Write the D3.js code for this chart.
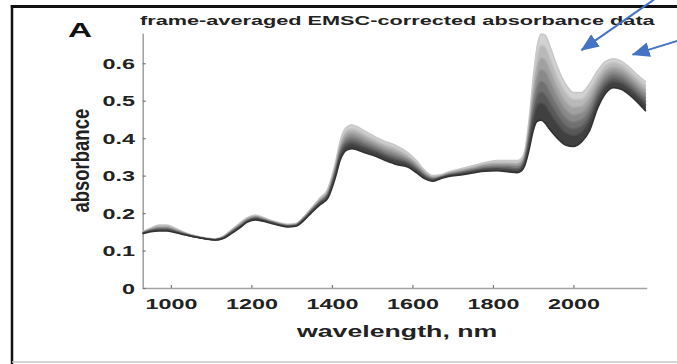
<!DOCTYPE html>
<html>
<head>
<meta charset="utf-8">
<script src="https://cdn.jsdelivr.net/npm/d3@7/dist/d3.min.js"></script>
<style>
  html, body { margin: 0; padding: 0; background: #fff; }
  svg { display: block; }
  text { font-family: "Liberation Sans", Arial, Helvetica, sans-serif; }
</style>
</head>
<body>
<svg id="chart" width="677" height="364"></svg>
<script>
// Wavelength grid (nm)
const wavelengths = [930, 950, 970, 990, 1010, 1030, 1050, 1070, 1090, 1110, 1130, 1150, 1170, 1190, 1210,
  1230, 1250, 1270, 1290, 1310, 1330, 1350, 1370, 1390, 1410, 1420, 1430, 1440, 1450, 1460, 1480, 1500,
  1530, 1560, 1590, 1610, 1630, 1650, 1670, 1690, 1720, 1750, 1780, 1810, 1840, 1860, 1870, 1880, 1890,
  1900, 1910, 1920, 1930, 1940, 1960, 1980, 2000, 2020, 2040, 2060, 2080, 2100, 2120, 2140, 2160, 2180];

// Absorbance spectra, from the lowest (darkest) to the highest (lightest) frame
const absDark = [0.145, 0.150, 0.152, 0.152, 0.148, 0.143, 0.138, 0.134, 0.130, 0.128, 0.132, 0.145, 0.160, 0.176, 0.182,
  0.178, 0.172, 0.167, 0.163, 0.165, 0.180, 0.202, 0.222, 0.240, 0.300, 0.340, 0.362, 0.370, 0.372, 0.370, 0.362, 0.355,
  0.342, 0.330, 0.322, 0.308, 0.292, 0.285, 0.292, 0.298, 0.302, 0.307, 0.312, 0.313, 0.310, 0.308, 0.312, 0.330, 0.370,
  0.420, 0.445, 0.448, 0.440, 0.425, 0.400, 0.382, 0.378, 0.390, 0.420, 0.480, 0.520, 0.535, 0.530, 0.515, 0.495, 0.472];
const absLow = [0.146, 0.152, 0.155, 0.155, 0.150, 0.144, 0.139, 0.135, 0.131, 0.129, 0.133, 0.147, 0.162, 0.178, 0.185,
  0.180, 0.174, 0.168, 0.164, 0.166, 0.182, 0.205, 0.226, 0.245, 0.308, 0.350, 0.374, 0.382, 0.385, 0.382, 0.374, 0.366,
  0.352, 0.340, 0.330, 0.314, 0.297, 0.288, 0.294, 0.300, 0.305, 0.311, 0.317, 0.318, 0.316, 0.314, 0.319, 0.338, 0.386,
  0.448, 0.485, 0.494, 0.487, 0.470, 0.438, 0.415, 0.407, 0.416, 0.445, 0.500, 0.537, 0.550, 0.545, 0.530, 0.510, 0.488];
const absLowMid = [0.146, 0.153, 0.157, 0.157, 0.151, 0.145, 0.139, 0.135, 0.131, 0.129, 0.134, 0.148, 0.163, 0.179, 0.186,
  0.181, 0.175, 0.169, 0.165, 0.167, 0.183, 0.206, 0.228, 0.248, 0.313, 0.356, 0.381, 0.390, 0.392, 0.390, 0.381, 0.372,
  0.358, 0.346, 0.334, 0.318, 0.299, 0.290, 0.295, 0.301, 0.307, 0.313, 0.319, 0.321, 0.320, 0.318, 0.323, 0.343, 0.396,
  0.465, 0.510, 0.523, 0.516, 0.498, 0.462, 0.435, 0.425, 0.432, 0.460, 0.512, 0.547, 0.560, 0.554, 0.539, 0.519, 0.497];
const absMid = [0.147, 0.155, 0.159, 0.159, 0.153, 0.146, 0.140, 0.135, 0.131, 0.129, 0.135, 0.150, 0.165, 0.181, 0.188,
  0.183, 0.176, 0.170, 0.166, 0.168, 0.185, 0.208, 0.230, 0.251, 0.318, 0.362, 0.388, 0.398, 0.400, 0.398, 0.388, 0.379,
  0.364, 0.352, 0.339, 0.322, 0.302, 0.292, 0.296, 0.303, 0.309, 0.316, 0.322, 0.325, 0.324, 0.322, 0.327, 0.348, 0.406,
  0.483, 0.535, 0.552, 0.546, 0.526, 0.486, 0.455, 0.443, 0.449, 0.476, 0.525, 0.558, 0.570, 0.564, 0.548, 0.528, 0.507];
const absMidHigh = [0.148, 0.156, 0.161, 0.161, 0.155, 0.147, 0.140, 0.135, 0.131, 0.129, 0.135, 0.151, 0.167, 0.183, 0.190,
  0.184, 0.177, 0.171, 0.167, 0.169, 0.186, 0.210, 0.233, 0.255, 0.324, 0.369, 0.396, 0.406, 0.409, 0.406, 0.396, 0.386,
  0.371, 0.359, 0.344, 0.327, 0.306, 0.294, 0.298, 0.305, 0.311, 0.318, 0.326, 0.328, 0.328, 0.327, 0.332, 0.354, 0.417,
  0.502, 0.562, 0.583, 0.578, 0.557, 0.512, 0.477, 0.462, 0.467, 0.493, 0.538, 0.570, 0.580, 0.574, 0.558, 0.538, 0.518];
const absHigh = [0.149, 0.157, 0.164, 0.164, 0.157, 0.148, 0.141, 0.136, 0.132, 0.130, 0.136, 0.152, 0.169, 0.185, 0.191,
  0.185, 0.178, 0.172, 0.168, 0.170, 0.187, 0.211, 0.235, 0.258, 0.329, 0.376, 0.404, 0.415, 0.417, 0.415, 0.404, 0.393,
  0.378, 0.366, 0.349, 0.331, 0.309, 0.296, 0.299, 0.307, 0.314, 0.321, 0.329, 0.332, 0.332, 0.331, 0.336, 0.359, 0.428,
  0.521, 0.589, 0.614, 0.609, 0.587, 0.537, 0.499, 0.482, 0.485, 0.510, 0.552, 0.581, 0.590, 0.584, 0.568, 0.548, 0.528];
const absHigher = [0.150, 0.159, 0.166, 0.166, 0.159, 0.149, 0.142, 0.137, 0.133, 0.131, 0.137, 0.154, 0.171, 0.187, 0.193,
  0.187, 0.179, 0.173, 0.169, 0.171, 0.189, 0.213, 0.238, 0.262, 0.335, 0.383, 0.412, 0.424, 0.426, 0.424, 0.412, 0.401,
  0.385, 0.373, 0.355, 0.336, 0.312, 0.298, 0.301, 0.309, 0.316, 0.324, 0.332, 0.336, 0.336, 0.336, 0.341, 0.365, 0.440,
  0.542, 0.619, 0.648, 0.644, 0.620, 0.565, 0.524, 0.504, 0.505, 0.529, 0.567, 0.594, 0.602, 0.596, 0.579, 0.559, 0.540];
const absLight = [0.150, 0.160, 0.168, 0.168, 0.160, 0.150, 0.142, 0.137, 0.133, 0.131, 0.138, 0.155, 0.172, 0.188, 0.195,
  0.188, 0.180, 0.174, 0.170, 0.172, 0.190, 0.215, 0.240, 0.265, 0.340, 0.390, 0.420, 0.432, 0.435, 0.432, 0.420, 0.408,
  0.392, 0.380, 0.360, 0.340, 0.315, 0.300, 0.302, 0.310, 0.318, 0.326, 0.335, 0.340, 0.340, 0.340, 0.345, 0.370, 0.450,
  0.560, 0.645, 0.678, 0.675, 0.650, 0.590, 0.545, 0.522, 0.522, 0.545, 0.580, 0.605, 0.612, 0.605, 0.588, 0.568, 0.550];

const spectra = [absDark, absLow, absLowMid, absMid, absMidHigh, absHigh, absHigher, absLight];

// Axis ticks
const xTicks = [1000, 1200, 1400, 1600, 1800, 2000];
const yTicks = [0, 0.1, 0.2, 0.3, 0.4, 0.5, 0.6];

// Annotation arrows: [tail wavelength, tail absorbance, tip wavelength, tip absorbance]
const arrows = [
  [2200, 0.77, 2020, 0.635],
  [2290, 0.67, 2147, 0.623]
];

const svg = d3.select("#chart");
const textStretch = 1.67;

const x = d3.scaleLinear().domain([930, 2182]).range([142.7, 646.7]);
const y = d3.scaleLinear().domain([0, 0.68]).range([288, 33.3]);
// Frame shade: dark for the lowest spectrum, pale for the highest
const shade = d3.scaleLinear().domain([0, spectra.length - 1]).range(["#333333", "#dedede"]);

// Figure frame
svg.append("line").attr("x1", 12).attr("x2", 12).attr("y1", 5).attr("y2", 364)
  .attr("stroke", "#111").attr("stroke-width", 2.5);
svg.append("line").attr("x1", 10.8).attr("x2", 677).attr("y1", 6.5).attr("y2", 6.5)
  .attr("stroke", "#111").attr("stroke-width", 3);
svg.append("line").attr("x1", 12).attr("x2", 677).attr("y1", 362).attr("y2", 362)
  .attr("stroke", "#c4c4c4").attr("stroke-width", 1.5);

// Axes
const xAxis = svg.append("g").attr("transform", `translate(0,${y(0)})`)
  .call(d3.axisBottom(x).tickValues(xTicks).tickSize(-3).tickSizeOuter(0).tickFormat(d3.format("d")));
const yAxis = svg.append("g").attr("transform", `translate(${x.range()[0]},0)`)
  .call(d3.axisLeft(y).tickValues(yTicks).tickSize(-3).tickSizeOuter(0)
    .tickFormat(d => d === 0 ? "0" : d3.format(".1f")(d)));

[xAxis, yAxis].forEach(g => {
  g.select(".domain").attr("stroke", "#a3a3a3").attr("stroke-width", 1.6);
  g.selectAll(".tick line").attr("stroke", "#777").attr("stroke-width", 1.2);
  g.selectAll(".tick text")
    .attr("fill", "#222").attr("font-size", 14).attr("font-weight", "bold")
    .attr("font-family", "'Liberation Sans', Arial, sans-serif");
});
xAxis.selectAll(".tick text").attr("y", 21.5).attr("dy", 0)
  .attr("transform", `scale(${textStretch},1)`);
yAxis.selectAll(".tick text").attr("x", -7.7 / textStretch).attr("dy", "0.36em")
  .attr("transform", `scale(${textStretch},1)`);

// Spectra: filled bands between neighbouring frames, then each frame's line
const defs = svg.append("defs");
const soft = defs.append("filter").attr("id", "soft")
  .attr("x", "-5%").attr("y", "-5%").attr("width", "110%").attr("height", "110%");
soft.append("feGaussianBlur").attr("stdDeviation", 0.6);

const plot = svg.append("g").attr("filter", "url(#soft)");
const curve = d3.curveMonotoneX;
for (let i = 0; i < spectra.length - 1; i++) {
  const lower = spectra[i], upper = spectra[i + 1];
  plot.append("path")
    .datum(wavelengths.map((w, k) => ({ w, lo: lower[k], hi: upper[k] })))
    .attr("fill", shade(i + 0.5))
    .attr("d", d3.area().curve(curve).x(d => x(d.w)).y0(d => y(d.lo)).y1(d => y(d.hi)));
}
for (let i = spectra.length - 1; i >= 0; i--) {
  plot.append("path")
    .datum(wavelengths.map((w, k) => ({ w, v: spectra[i][k] })))
    .attr("fill", "none")
    .attr("stroke", i === spectra.length - 1 ? "#c8c8c8" : shade(i))
    .attr("stroke-width", 1.6)
    .attr("d", d3.line().curve(curve).x(d => x(d.w)).y(d => y(d.v)));
}

// Labels
svg.append("text")
  .attr("transform", `translate(${x(1562)},337) scale(${textStretch},1)`)
  .attr("text-anchor", "middle").attr("font-size", 16).attr("font-weight", "bold").attr("fill", "#222")
  .text("wavelength, nm");
svg.append("text")
  .attr("transform", `translate(89,${(y.range()[0] + y.range()[1]) / 2}) scale(1.3,1) rotate(-90)`)
  .attr("text-anchor", "middle").attr("font-size", 18.5).attr("font-weight", "bold").attr("fill", "#222")
  .text("absorbance");
svg.append("text")
  .attr("transform", `translate(140,25) scale(${textStretch},1)`)
  .attr("font-size", 13).attr("font-weight", "bold").attr("fill", "#222")
  .text("frame-averaged EMSC-corrected absorbance data");
svg.append("text")
  .attr("transform", `translate(68,37) scale(${textStretch},1)`)
  .attr("font-size", 20).attr("font-weight", "bold").attr("fill", "#111")
  .text("A");

// Annotation arrows
defs.append("marker").attr("id", "arrowhead")
  .attr("viewBox", "0 0 18 15").attr("refX", 17).attr("refY", 7.5)
  .attr("markerWidth", 18).attr("markerHeight", 15).attr("markerUnits", "userSpaceOnUse")
  .attr("orient", "auto")
  .append("path").attr("d", "M0,0 L18,7.5 L0,15 Z").attr("fill", "#4472c4");
svg.append("g").selectAll("line").data(arrows).join("line")
  .attr("x1", d => x(d[0])).attr("y1", d => y(d[1]))
  .attr("x2", d => x(d[2])).attr("y2", d => y(d[3]))
  .attr("stroke", "#4472c4").attr("stroke-width", 2)
  .attr("marker-end", "url(#arrowhead)");
</script>
</body>
</html>
